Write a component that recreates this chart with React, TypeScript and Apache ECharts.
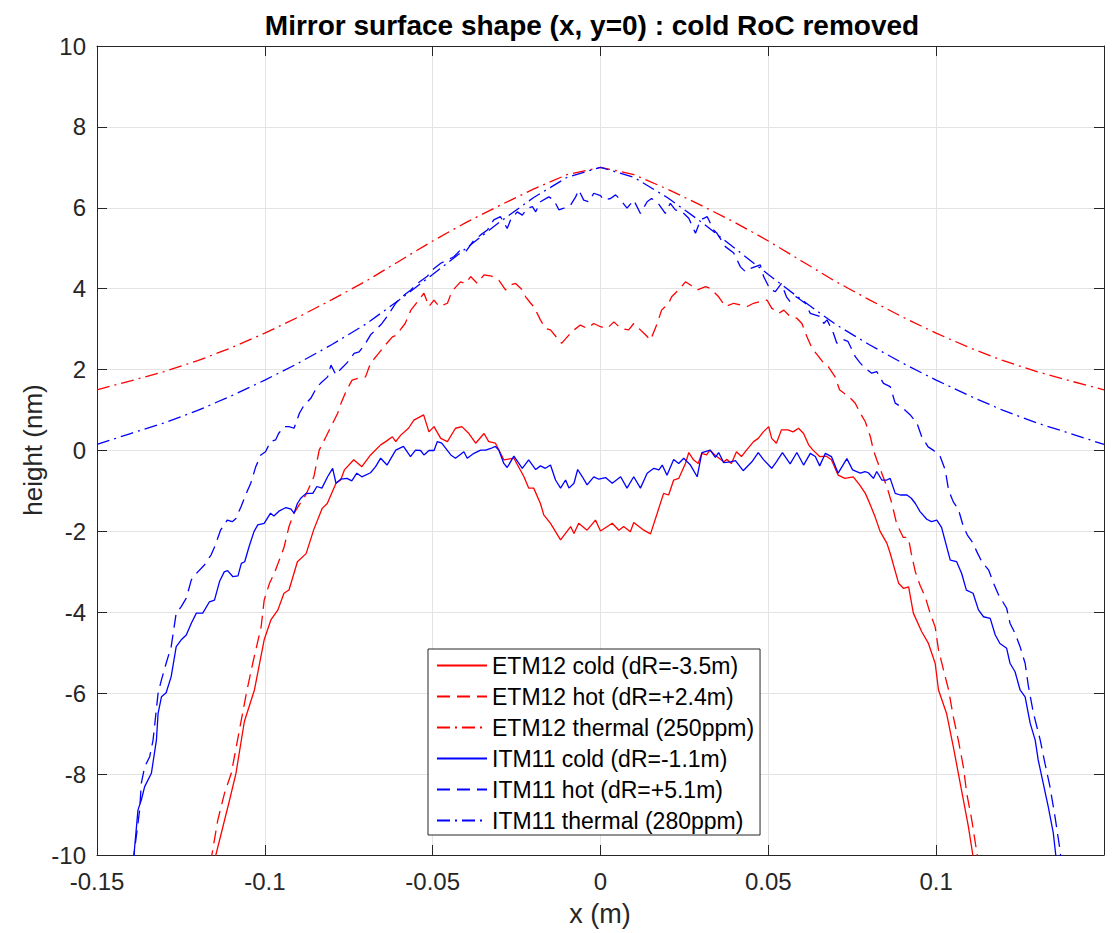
import React, { useEffect, useRef } from "react";
import * as echarts from "echarts";

const xTicks = [-0.15, -0.1, -0.05, 0, 0.05, 0.1];
const yTicks = [-10, -8, -6, -4, -2, 0, 2, 4, 6, 8, 10];

const seriesNames = [
  "ETM12 cold (dR=-3.5m)",
  "ETM12 hot (dR=+2.4m)",
  "ETM12 thermal (250ppm)",
  "ITM11 cold (dR=-1.1m)",
  "ITM11 hot (dR=+5.1m)",
  "ITM11 thermal (280ppm)",
];

const etmCold: number[][] = [
  [-0.1152, -10.2], [-0.1105, -8.64], [-0.1086, -7.98], [-0.1061, -6.7], [-0.1031, -5.92],
  [-0.1002, -4.68], [-0.0982, -4.19], [-0.0961, -3.94], [-0.0943, -3.53], [-0.0928, -3.45],
  [-0.0903, -2.75], [-0.0877, -2.55], [-0.0854, -1.95], [-0.0829, -1.43], [-0.0814, -1.31],
  [-0.0788, -0.81], [-0.0774, -0.73], [-0.0763, -0.48], [-0.0735, -0.23], [-0.0711, -0.4],
  [-0.0685, -0.11], [-0.0655, 0.14], [-0.064, 0.22], [-0.062, 0.34], [-0.061, 0.22],
  [-0.0595, 0.38], [-0.0572, 0.55], [-0.0556, 0.75], [-0.0527, 0.88], [-0.0511, 0.46],
  [-0.0496, 0.59], [-0.0476, 0.3], [-0.0456, 0.22], [-0.0432, 0.55], [-0.0413, 0.59],
  [-0.0392, 0.42], [-0.0372, 0.18], [-0.0347, 0.42], [-0.0333, 0.22], [-0.0313, 0.18],
  [-0.0288, -0.23], [-0.0258, -0.19], [-0.0228, -0.65], [-0.0214, -0.93], [-0.0199, -0.93],
  [-0.0179, -1.31], [-0.0169, -1.59], [-0.0149, -1.8], [-0.0119, -2.21], [-0.0089, -1.88],
  [-0.0079, -2.05], [-0.0065, -1.8], [-0.004, -1.97], [-0.0015, -1.72], [0.0, -1.99],
  [0.0035, -1.8], [0.0055, -1.97], [0.0069, -1.88], [0.0089, -2.01], [0.0099, -1.78],
  [0.0129, -1.97], [0.0149, -2.06], [0.0169, -1.55], [0.0188, -1.06], [0.0203, -1.1],
  [0.0218, -0.73], [0.0233, -0.69], [0.0253, -0.32], [0.0263, -0.05], [0.0277, -0.23],
  [0.0291, -0.32], [0.0302, -0.07], [0.0316, -0.11], [0.0326, 0.01], [0.0341, -0.11],
  [0.0367, -0.28], [0.0377, -0.22], [0.039, -0.32], [0.0405, -0.03], [0.042, -0.15],
  [0.0435, 0.01], [0.0456, 0.22], [0.047, 0.3], [0.0485, 0.46], [0.0501, 0.59],
  [0.051, 0.3], [0.0524, 0.18], [0.0539, 0.51], [0.0558, 0.51], [0.0574, 0.46],
  [0.059, 0.55], [0.0605, 0.42], [0.062, 0.14], [0.0633, 0.01], [0.0653, -0.15],
  [0.0673, -0.14], [0.0688, -0.23], [0.0708, -0.61], [0.0728, -0.69], [0.0753, -0.65],
  [0.0772, -0.85], [0.0789, -1.06], [0.0804, -1.35], [0.0818, -1.64], [0.0833, -2.0],
  [0.0853, -2.29], [0.0863, -2.54], [0.0888, -3.28], [0.0903, -3.41], [0.0918, -3.37],
  [0.0932, -4.02], [0.0957, -4.48], [0.0977, -4.77], [0.0997, -5.26], [0.1007, -5.92],
  [0.1031, -6.5], [0.1051, -7.32], [0.1066, -7.98], [0.1081, -8.64], [0.1096, -9.3],
  [0.1113, -10.2],
];

const etmHot: number[][] = [
  [-0.1162, -10.2], [-0.114, -9.13], [-0.112, -8.47], [-0.11, -7.98], [-0.1085, -7.32],
  [-0.107, -6.66], [-0.1055, -6.0], [-0.1036, -5.26], [-0.1011, -4.36], [-0.1002, -3.7],
  [-0.0986, -3.28], [-0.0972, -3.04], [-0.0957, -2.71], [-0.0943, -2.4], [-0.0928, -1.88],
  [-0.0913, -1.55], [-0.0898, -1.35], [-0.0878, -1.1], [-0.0854, -0.65], [-0.0838, 0.01],
  [-0.0818, 0.34], [-0.0803, 0.59], [-0.0783, 0.92], [-0.0773, 1.17], [-0.0756, 1.5],
  [-0.074, 1.74], [-0.0715, 1.8], [-0.07, 1.82], [-0.0685, 2.16], [-0.0661, 2.4],
  [-0.0645, 2.57], [-0.062, 2.81], [-0.061, 2.84], [-0.0582, 3.14], [-0.0565, 3.47],
  [-0.0541, 3.72], [-0.0526, 3.89], [-0.0511, 3.56], [-0.0496, 3.72], [-0.0481, 3.56],
  [-0.0456, 3.64], [-0.0443, 3.93], [-0.0417, 4.17], [-0.0402, 4.13], [-0.0387, 4.3],
  [-0.0367, 4.13], [-0.0347, 4.34], [-0.0324, 4.31], [-0.0303, 4.21], [-0.0283, 3.97],
  [-0.0268, 4.09], [-0.0253, 4.13], [-0.0233, 3.97], [-0.0223, 3.8], [-0.0208, 3.64],
  [-0.0199, 3.56], [-0.0179, 3.23], [-0.0164, 3.02], [-0.0149, 2.98], [-0.0124, 2.73],
  [-0.0116, 2.65], [-0.0099, 2.81], [-0.0079, 2.98], [-0.006, 3.1], [-0.004, 3.02],
  [-0.002, 3.14], [0.0, 3.06], [0.002, 3.02], [0.004, 3.18], [0.006, 3.02],
  [0.0084, 2.98], [0.0099, 3.14], [0.0134, 2.86], [0.0149, 2.73], [0.0169, 3.14],
  [0.0182, 3.47], [0.0203, 3.64], [0.0212, 3.8], [0.0237, 4.01], [0.0253, 4.17],
  [0.0268, 4.09], [0.0288, 3.97], [0.0313, 4.05], [0.0327, 4.01], [0.0352, 3.8],
  [0.0372, 3.56], [0.0397, 3.64], [0.0417, 3.6], [0.0437, 3.56], [0.0456, 3.64],
  [0.0496, 3.72], [0.051, 3.52], [0.0531, 3.39], [0.0546, 3.47], [0.0565, 3.31],
  [0.0585, 3.27], [0.06, 3.14], [0.0615, 2.81], [0.063, 2.53], [0.065, 2.32],
  [0.0665, 2.16], [0.0679, 2.07], [0.0699, 1.82], [0.0712, 1.5], [0.074, 1.33],
  [0.0759, 1.17], [0.0774, 0.92], [0.0789, 0.71], [0.0804, 0.34], [0.0813, 0.01],
  [0.0823, -0.23], [0.0838, -0.56], [0.0853, -0.89], [0.0868, -1.31], [0.0882, -1.8],
  [0.0902, -2.15], [0.0917, -2.15], [0.0926, -2.55], [0.0938, -3.0], [0.0952, -3.33],
  [0.0967, -3.61], [0.0982, -4.02], [0.0997, -4.36], [0.1007, -4.93], [0.1022, -5.43],
  [0.1037, -5.92], [0.1051, -6.58], [0.1066, -7.16], [0.1081, -7.82], [0.1091, -8.47],
  [0.1106, -9.13], [0.1126, -10.2],
];

const etmThermal: number[][] = [
  [-0.15, 1.5], [-0.14, 1.72], [-0.13, 1.95], [-0.12, 2.22], [-0.11, 2.54], [-0.1, 2.9],
  [-0.09, 3.3], [-0.08, 3.73], [-0.07, 4.18], [-0.06, 4.68], [-0.05, 5.18], [-0.04, 5.64],
  [-0.03, 6.06], [-0.02, 6.46], [-0.01, 6.82], [0.0, 7.0], [0.01, 6.82], [0.02, 6.46],
  [0.03, 6.06], [0.04, 5.64], [0.05, 5.18], [0.06, 4.68], [0.07, 4.18], [0.08, 3.73],
  [0.09, 3.3], [0.1, 2.9], [0.11, 2.54], [0.12, 2.22], [0.13, 1.95], [0.14, 1.72], [0.15, 1.5],
];

const itmCold: number[][] = [
  [-0.1392, -10.2], [-0.1378, -8.89], [-0.1368, -8.64], [-0.1358, -8.31], [-0.1338, -7.98],
  [-0.1323, -7.16], [-0.1318, -6.5], [-0.1308, -6.09], [-0.1294, -5.99], [-0.1279, -5.59],
  [-0.1264, -4.85], [-0.1249, -4.68], [-0.1234, -4.56], [-0.1219, -4.27], [-0.1204, -4.02],
  [-0.1185, -4.02], [-0.1165, -3.74], [-0.115, -3.7], [-0.1135, -3.24], [-0.1121, -3.0],
  [-0.1111, -2.97], [-0.1095, -3.12], [-0.108, -3.1], [-0.107, -2.79], [-0.106, -2.75],
  [-0.1047, -2.38], [-0.1032, -2.0], [-0.1021, -1.84], [-0.1002, -1.8], [-0.0983, -1.55],
  [-0.0973, -1.62], [-0.0958, -1.5], [-0.0937, -1.41], [-0.0922, -1.45], [-0.0913, -1.55],
  [-0.0903, -1.31], [-0.0893, -1.18], [-0.0877, -1.06], [-0.0857, -1.06], [-0.0845, -0.89],
  [-0.083, -0.93], [-0.0813, -0.65], [-0.0798, -0.44], [-0.0788, -0.81], [-0.0774, -0.71],
  [-0.0755, -0.69], [-0.0741, -0.75], [-0.0726, -0.56], [-0.0711, -0.65], [-0.0685, -0.55],
  [-0.067, -0.4], [-0.0655, -0.19], [-0.0636, -0.36], [-0.061, 0.01], [-0.0587, 0.1],
  [-0.0566, -0.15], [-0.0551, 0.01], [-0.0536, 0.0], [-0.0526, -0.11], [-0.0511, 0.0],
  [-0.0496, 0.0], [-0.0486, 0.22], [-0.0473, 0.18], [-0.0446, -0.11], [-0.0432, -0.19],
  [-0.0407, -0.03], [-0.0397, -0.19], [-0.0377, -0.07], [-0.0357, 0.01], [-0.0342, 0.01],
  [-0.0327, 0.05], [-0.0313, 0.1], [-0.0303, 0.01], [-0.0288, -0.32], [-0.0278, -0.42],
  [-0.0258, -0.14], [-0.0233, -0.44], [-0.0214, -0.23], [-0.0193, -0.47], [-0.0179, -0.38],
  [-0.0164, -0.44], [-0.0149, -0.36], [-0.0134, -0.73], [-0.0119, -0.93], [-0.0104, -0.73],
  [-0.0094, -0.93], [-0.0079, -0.81], [-0.0068, -0.47], [-0.0054, -0.65], [-0.004, -0.85],
  [-0.002, -0.65], [-0.0005, -0.71], [0.0015, -0.67], [0.0035, -0.81], [0.006, -0.65],
  [0.0079, -0.93], [0.0099, -0.65], [0.0119, -0.93], [0.0139, -0.56], [0.0159, -0.44],
  [0.0174, -0.48], [0.0184, -0.36], [0.0198, -0.61], [0.0218, -0.22], [0.0233, -0.32],
  [0.0248, -0.19], [0.0268, -0.36], [0.0288, -0.65], [0.0302, -0.05], [0.0327, 0.01],
  [0.0342, -0.17], [0.0352, -0.05], [0.0367, -0.3], [0.0387, -0.28], [0.0402, -0.25],
  [0.0425, -0.5], [0.0451, -0.28], [0.047, -0.05], [0.0485, -0.22], [0.051, -0.44],
  [0.0524, -0.28], [0.0542, -0.05], [0.0565, -0.33], [0.0585, -0.05], [0.0605, -0.36],
  [0.0625, -0.07], [0.064, -0.15], [0.0653, -0.38], [0.067, -0.07], [0.0688, -0.15],
  [0.0708, -0.56], [0.0734, -0.2], [0.0751, -0.48], [0.0774, -0.56], [0.0788, -0.52],
  [0.0798, -0.55], [0.0813, -0.69], [0.0823, -0.52], [0.0838, -0.73], [0.0853, -0.73],
  [0.0863, -0.69], [0.0878, -1.06], [0.0893, -1.1], [0.0913, -1.1], [0.0926, -1.18],
  [0.0938, -1.31], [0.0952, -1.51], [0.0972, -1.7], [0.0986, -1.76], [0.1002, -1.72],
  [0.1016, -1.9], [0.1042, -2.71], [0.1061, -2.75], [0.1076, -3.04], [0.109, -3.45],
  [0.111, -3.53], [0.1126, -3.94], [0.1141, -4.11], [0.1161, -4.15], [0.1176, -4.56],
  [0.119, -4.77], [0.121, -4.89], [0.122, -5.26], [0.1235, -5.47], [0.125, -5.92],
  [0.1265, -6.09], [0.128, -6.74], [0.1295, -7.16], [0.1304, -7.65], [0.1319, -8.23],
  [0.1334, -8.81], [0.1349, -9.46], [0.1359, -10.2],
];

const itmHot: number[][] = [
  [-0.1393, -10.2], [-0.1373, -8.89], [-0.1368, -8.23], [-0.1358, -7.82], [-0.1343, -7.57],
  [-0.1333, -7.16], [-0.1318, -6.0], [-0.1308, -5.67], [-0.1294, -5.26], [-0.1279, -4.85],
  [-0.1264, -4.02], [-0.1249, -3.86], [-0.1234, -3.65], [-0.1219, -3.2], [-0.1204, -3.04],
  [-0.118, -2.83], [-0.116, -2.58], [-0.1148, -2.35], [-0.1132, -1.97], [-0.1112, -1.72],
  [-0.1097, -1.76], [-0.1086, -1.68], [-0.1071, -1.39], [-0.1055, -1.06], [-0.1042, -0.81],
  [-0.1027, -0.4], [-0.1012, -0.11], [-0.0998, -0.03], [-0.0983, 0.22], [-0.0968, 0.26],
  [-0.0959, 0.42], [-0.0943, 0.59], [-0.0928, 0.59], [-0.0913, 0.55], [-0.0897, 0.92],
  [-0.0883, 1.12], [-0.0863, 1.29], [-0.0844, 1.58], [-0.0834, 1.66], [-0.0813, 1.82],
  [-0.0803, 2.11], [-0.0788, 1.87], [-0.0774, 2.01], [-0.0756, 2.16], [-0.0734, 2.4],
  [-0.0719, 2.44], [-0.07, 2.65], [-0.0685, 2.86], [-0.0675, 2.94], [-0.0651, 3.14],
  [-0.0636, 3.31], [-0.061, 3.64], [-0.0592, 3.8], [-0.0565, 3.97], [-0.0546, 4.13],
  [-0.0517, 4.3], [-0.0496, 4.5], [-0.0476, 4.63], [-0.0456, 4.71], [-0.0437, 4.79],
  [-0.0417, 4.96], [-0.0402, 4.91], [-0.0377, 5.2], [-0.0357, 5.33], [-0.0337, 5.45],
  [-0.0318, 5.7], [-0.0298, 5.78], [-0.0278, 5.49], [-0.0268, 5.7], [-0.0248, 5.9],
  [-0.0233, 5.82], [-0.0218, 5.99], [-0.0203, 6.03], [-0.0193, 5.9], [-0.0179, 6.15],
  [-0.0154, 6.27], [-0.0139, 6.19], [-0.0124, 5.95], [-0.0109, 5.99], [-0.0089, 6.07],
  [-0.0074, 6.27], [-0.0065, 6.44], [-0.005, 6.19], [-0.0035, 6.15], [-0.002, 6.36],
  [0.0, 6.3], [0.001, 6.19], [0.003, 6.23], [0.0045, 6.32], [0.006, 6.19],
  [0.0079, 5.99], [0.0099, 6.19], [0.0119, 5.86], [0.0139, 6.15], [0.0152, 6.23],
  [0.0172, 6.11], [0.0193, 5.86], [0.0208, 6.11], [0.0223, 5.95], [0.0243, 5.9],
  [0.0263, 5.74], [0.0283, 5.37], [0.0298, 5.7], [0.0318, 5.78], [0.0337, 5.45],
  [0.0347, 5.37], [0.0372, 5.04], [0.0397, 4.88], [0.0417, 4.54], [0.0432, 4.42],
  [0.0446, 4.5], [0.0476, 4.59], [0.0486, 4.3], [0.0506, 3.97], [0.0521, 3.93],
  [0.0539, 4.13], [0.0554, 3.8], [0.0565, 3.68], [0.0583, 3.8], [0.061, 3.64],
  [0.0625, 3.39], [0.0655, 3.31], [0.0665, 3.14], [0.0675, 3.23], [0.0694, 2.9],
  [0.0704, 2.65], [0.0721, 2.75], [0.0737, 2.7], [0.0759, 2.32], [0.0774, 2.16],
  [0.0789, 2.03], [0.0808, 1.91], [0.0823, 1.95], [0.0843, 1.66], [0.0863, 1.58],
  [0.0878, 1.17], [0.0896, 1.08], [0.0923, 0.88], [0.0943, 0.67], [0.0957, 0.34],
  [0.0976, 0.09], [0.0991, 0.01], [0.1012, -0.15], [0.1027, -0.48], [0.1037, -0.98],
  [0.1051, -1.27], [0.1066, -1.45], [0.1081, -1.88], [0.1093, -2.09], [0.111, -2.29],
  [0.1121, -2.5], [0.1136, -2.75], [0.1156, -2.95], [0.1171, -3.28], [0.1186, -3.57],
  [0.121, -3.9], [0.122, -4.27], [0.1235, -4.52], [0.125, -4.85], [0.1265, -5.26],
  [0.1275, -5.84], [0.129, -6.5], [0.131, -7.16], [0.1324, -7.73], [0.1339, -8.31],
  [0.1354, -9.05], [0.1369, -9.88], [0.1373, -10.2],
];

const itmThermal: number[][] = [
  [-0.15, 0.15], [-0.14, 0.42], [-0.13, 0.68], [-0.12, 0.99], [-0.11, 1.35], [-0.1, 1.74],
  [-0.09, 2.16], [-0.08, 2.62], [-0.07, 3.12], [-0.06, 3.72], [-0.05, 4.35], [-0.04, 5.0],
  [-0.03, 5.65], [-0.02, 6.25], [-0.01, 6.75], [0.0, 7.0], [0.01, 6.75], [0.02, 6.25],
  [0.03, 5.65], [0.04, 5.0], [0.05, 4.35], [0.06, 3.72], [0.07, 3.12], [0.08, 2.62],
  [0.09, 2.16], [0.1, 1.74], [0.11, 1.35], [0.12, 0.99], [0.13, 0.68], [0.14, 0.42], [0.15, 0.15],
];

const RED = "#ff0000";
const BLUE = "#0000ff";
const FONT = "'Liberation Sans', Arial, Helvetica, sans-serif";
const AXIS_COLOR = "#262626";

const GRID_LEFT = 97;
const GRID_TOP = 46;
const GRID_W = 1007;
const GRID_H = 809;

export default function App() {
  const ref = useRef<HTMLDivElement>(null);

  useEffect(() => {
    document.body.style.margin = "0";
    if (!ref.current) return;
    const chart = echarts.init(ref.current, undefined, { renderer: "svg" });

    const dashStyle = [13, 7];
    const dashDot = [13, 5, 2, 5];
    const mk = (name: string, data: number[][], color: string, type: any) => ({
      name,
      type: "line",
      data,
      showSymbol: false,
      symbol: "none",
      clip: true,
      smooth: false,
      lineStyle: { color, width: 1.3, type },
      itemStyle: { color },
      emphasis: { disabled: true },
    });

    const xLabel = (v: number) => {
      const r = Math.round(v * 100) / 100;
      if (Math.abs(r - 0.15) < 1e-9) return "";
      return String(r);
    };

    const axisCommon = {
      type: "value",
      axisLine: { show: true, onZero: false, lineStyle: { color: AXIS_COLOR, width: 1 } },
      axisTick: { show: true, inside: true, length: 10, lineStyle: { color: AXIS_COLOR, width: 1 } },
    };

    chart.setOption({
      animation: false,
      backgroundColor: "#ffffff",
      title: {
        text: "Mirror surface shape (x, y=0) : cold RoC removed",
        left: 587,
        top: 6,
        textAlign: "center",
        textStyle: { fontFamily: FONT, fontSize: 28, fontWeight: "bold", color: "#000" },
      },
      grid: { left: GRID_LEFT, top: GRID_TOP, width: GRID_W, height: GRID_H, containLabel: false },
      xAxis: [
        {
          ...axisCommon,
          position: "bottom",
          min: -0.15,
          max: 0.15,
          interval: 0.05,
          axisLabel: {
            show: true,
            formatter: xLabel,
            margin: 14,
            fontFamily: FONT,
            fontSize: 24,
            color: AXIS_COLOR,
            showMaxLabel: false,
          },
          splitLine: { show: true, lineStyle: { color: "#e3e3e3", width: 1 } },
        },
        {
          ...axisCommon,
          position: "top",
          min: -0.15,
          max: 0.15,
          interval: 0.05,
          axisLabel: { show: false },
          splitLine: { show: false },
        },
      ],
      yAxis: [
        {
          ...axisCommon,
          position: "left",
          min: -10,
          max: 10,
          interval: 2,
          axisLabel: {
            show: true,
            margin: 11,
            fontFamily: FONT,
            fontSize: 24,
            color: AXIS_COLOR,
          },
          splitLine: { show: true, lineStyle: { color: "#e3e3e3", width: 1 } },
        },
        {
          ...axisCommon,
          position: "right",
          min: -10,
          max: 10,
          interval: 2,
          axisLabel: { show: false },
          splitLine: { show: false },
        },
      ],
      legend: {
        orient: "vertical",
        left: 428,
        top: 649,
        itemWidth: 50,
        itemHeight: 14,
        itemGap: 8,
        padding: [5, 6, 3, 8],
        borderColor: AXIS_COLOR,
        borderWidth: 1,
        backgroundColor: "#ffffff",
        itemStyle: { opacity: 0 },
        textStyle: { fontFamily: FONT, fontSize: 23, color: "#000" },
        data: seriesNames,
        selectedMode: false,
      },
      graphic: [
        {
          type: "text",
          x: 600,
          y: 914,
          style: {
            text: "x (m)",
            font: `27px ${FONT}`,
            fill: AXIS_COLOR,
            align: "center",
            verticalAlign: "middle",
            textAlign: "center",
            textVerticalAlign: "middle",
          },
        },
        {
          type: "text",
          x: 33,
          y: 450,
          rotation: Math.PI / 2,
          style: {
            text: "height (nm)",
            font: `26px ${FONT}`,
            fill: AXIS_COLOR,
            align: "center",
            verticalAlign: "middle",
            textAlign: "center",
            textVerticalAlign: "middle",
          },
        },
      ],
      series: [
        mk(seriesNames[0], etmCold, RED, "solid"),
        mk(seriesNames[1], etmHot, RED, dashStyle),
        mk(seriesNames[2], etmThermal, RED, dashDot),
        mk(seriesNames[3], itmCold, BLUE, "solid"),
        mk(seriesNames[4], itmHot, BLUE, dashStyle),
        mk(seriesNames[5], itmThermal, BLUE, dashDot),
      ],
    });

    return () => {
      chart.dispose();
    };
  }, []);

  return <div ref={ref} style={{ width: 1112, height: 933 }} />;
}
